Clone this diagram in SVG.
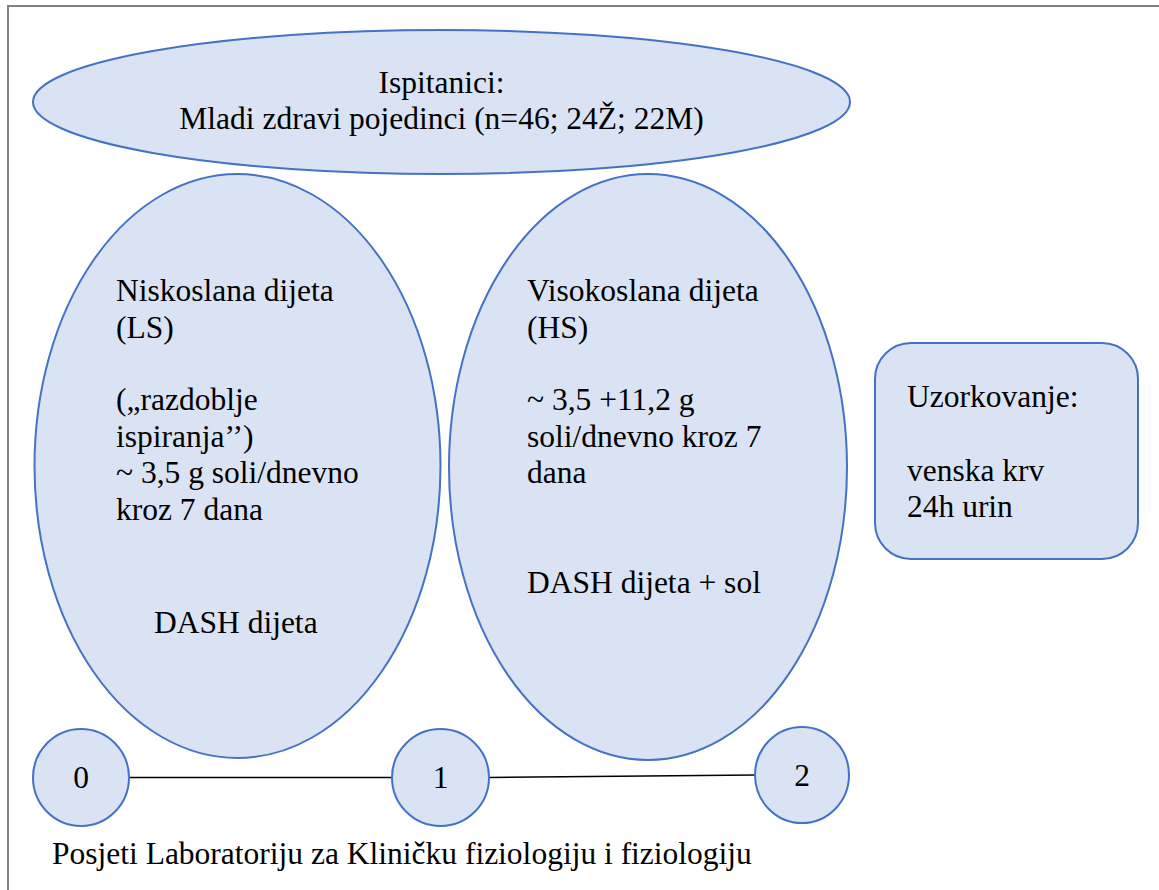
<svg xmlns="http://www.w3.org/2000/svg" width="1159" height="890" viewBox="0 0 1159 890" font-family="Liberation Serif, serif">
  <style>
    .shape { fill: #dae3f3; stroke: #4472c4; stroke-width: 2; }
    .t { font-family: "Liberation Serif", serif; font-size: 31.5px; fill: #000; }
    .c { text-anchor: middle; }
    .conn { stroke: #000; stroke-width: 1.5; fill: none; }
  </style>
  <rect x="0" y="0" width="1159" height="890" fill="#ffffff"/>
  <path d="M8 890 V6 H1159" fill="none" stroke="#808080" stroke-width="2"/>

  <g id="ispitanici">
    <ellipse class="shape" cx="441.5" cy="102" rx="408.5" ry="72"/>
    <text class="t c" x="441.5" y="93" font-family="Liberation Serif">Ispitanici:</text>
    <text class="t c" x="441.5" y="129" font-family="Liberation Serif">Mladi zdravi pojedinci (n=46; 24Ž; 22M)</text>
  </g>

  <g id="ls">
    <ellipse class="shape" cx="237.5" cy="466" rx="203" ry="292"/>
    <text class="t" x="116" y="301">Niskoslana dijeta</text>
    <text class="t" x="116" y="338">(LS)</text>
    <text class="t" x="116" y="410">(„razdoblje</text>
    <text class="t" x="116" y="447">ispiranja’’)</text>
    <text class="t" x="116" y="483">~ 3,5 g soli/dnevno</text>
    <text class="t" x="116" y="520">kroz 7 dana</text>
    <text class="t" x="154" y="633">DASH dijeta</text>
  </g>

  <g id="hs">
    <ellipse class="shape" cx="648" cy="467" rx="199" ry="293"/>
    <text class="t" x="527" y="301">Visokoslana dijeta</text>
    <text class="t" x="527" y="338">(HS)</text>
    <text class="t" x="527" y="410">~ 3,5 +11,2 g</text>
    <text class="t" x="527" y="447">soli/dnevno kroz 7</text>
    <text class="t" x="527" y="483">dana</text>
    <text class="t" x="527" y="593">DASH dijeta + sol</text>
  </g>

  <g id="uzorkovanje">
    <rect class="shape" x="875" y="343" width="263" height="216" rx="36" ry="36"/>
    <text class="t" x="907" y="407">Uzorkovanje:</text>
    <text class="t" x="907" y="481">venska krv</text>
    <text class="t" x="907" y="517">24h urin</text>
  </g>

  <g id="connectors">
    <line class="conn" x1="129" y1="777.5" x2="392" y2="777.5"/>
    <line class="conn" x1="489" y1="777.5" x2="755" y2="775"/>
  </g>

  <g id="v0">
    <ellipse class="shape" cx="81" cy="777.5" rx="48" ry="48.5"/>
    <text class="t c" x="81" y="788">0</text>
  </g>
  <g id="v1">
    <ellipse class="shape" cx="440.5" cy="777.5" rx="48.5" ry="48.5"/>
    <text class="t c" x="440.5" y="788">1</text>
  </g>
  <g id="v2">
    <ellipse class="shape" cx="802" cy="775" rx="47" ry="48"/>
    <text class="t c" x="802" y="786">2</text>
  </g>

  <text id="posjeti" class="t" x="52" y="864">Posjeti Laboratoriju za Kliničku fiziologiju i fiziologiju</text>
</svg>
